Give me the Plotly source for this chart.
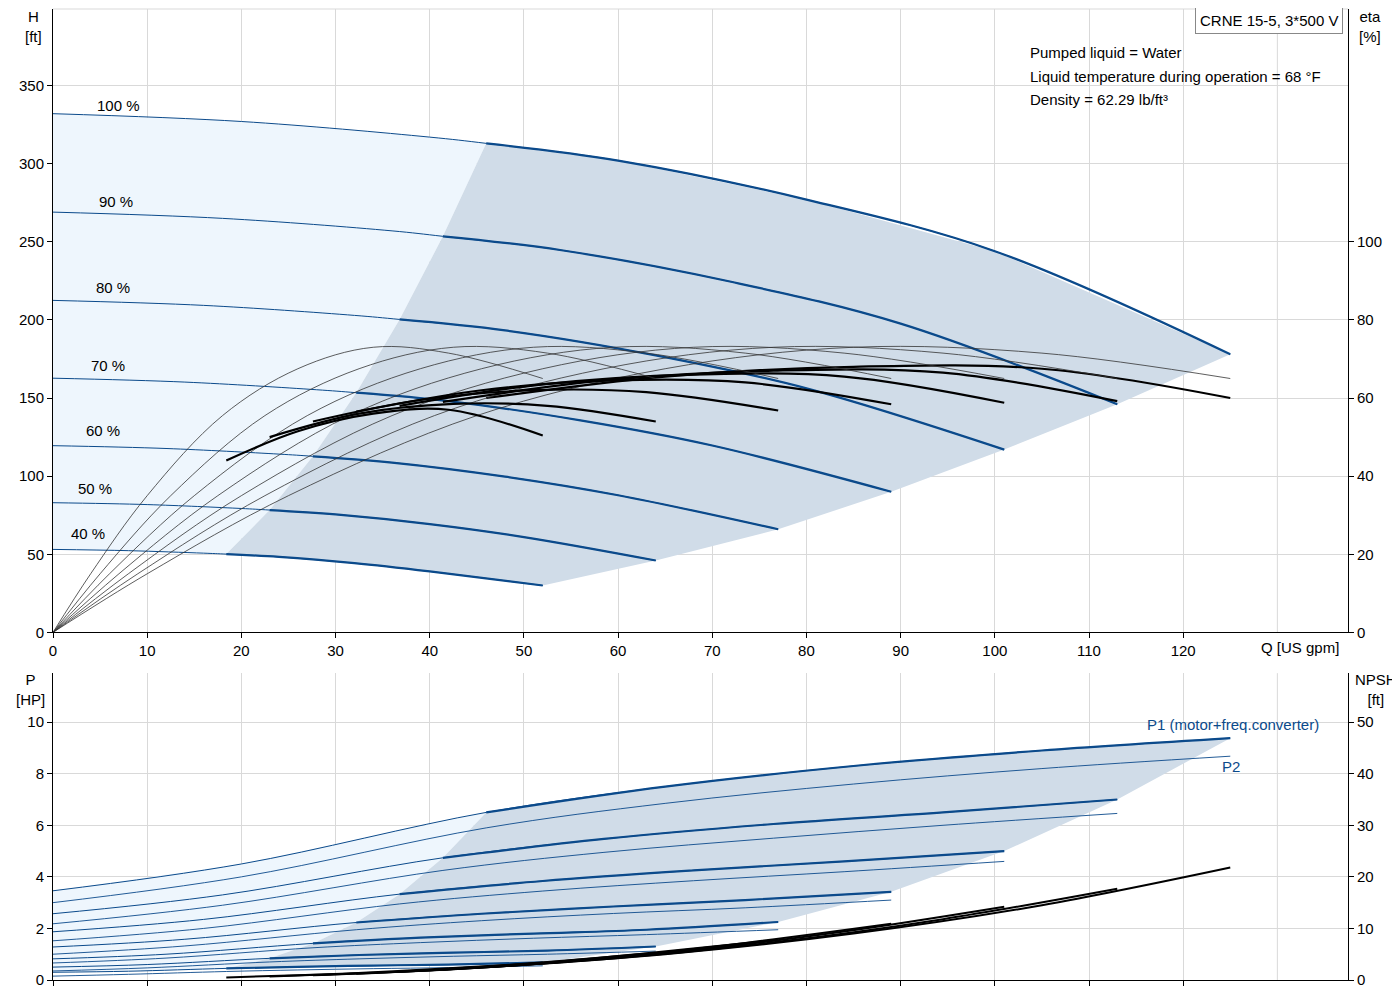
import plotly.graph_objects as go

SPEEDS = ["100 %", "90 %", "80 %", "70 %", "60 %", "50 %", "40 %"]
# H curves (Q, H) per speed; index 3 = start of operating range
H_Q = [
    [0, 20, 40, 46, 60, 80, 100, 125],
    [0, 18, 36, 41.4, 54, 72, 90, 113],
    [0, 16, 32, 36.8, 48, 64, 80, 101],
    [0, 14, 28, 32.2, 42, 56, 70, 89],
    [0, 12, 24, 27.6, 36, 48, 60, 77],
    [0, 10, 20, 23, 30, 40, 50, 64],
    [0, 8, 16, 18.4, 24, 32, 40, 52],
]
H_V = [
    [332, 327, 317, 313, 302, 277, 244, 178],
    [269, 265, 257, 253.5, 244.6, 224.4, 197.6, 146],
    [212.5, 209.3, 202.9, 200.3, 193.3, 177.3, 156.2, 117],
    [162.7, 160.2, 155.3, 153.4, 148, 135.7, 119.6, 90],
    [119.5, 117.7, 114.1, 112.7, 108.7, 99.7, 87.8, 66],
    [83, 81.8, 79.3, 78.3, 75.5, 69.3, 61, 46],
    [53.1, 52.3, 50.7, 50.1, 48.3, 44.3, 39, 30],
]
LABEL_POS = [(7.0, 337), (6.7, 276), (6.4, 221), (5.8, 171), (5.3, 129), (4.5, 92), (3.7, 63)]

# pump efficiency (thin) per speed
ETA_P_Q = [
    [0, 10, 25, 45, 65, 85, 105, 125],
    [0, 9, 22.5, 40.5, 58.5, 76.5, 94.5, 113],
    [0, 8, 20, 36, 52, 68, 84, 101],
    [0, 7, 17.5, 31.5, 45.5, 59.5, 73.5, 89],
    [0, 6, 15, 27, 39, 51, 63, 77],
    [0, 5, 12.5, 22.5, 32.5, 42.5, 52.5, 64],
    [0, 4, 10, 18, 26, 34, 42, 52],
]
ETA_P_V = [0, 15, 35, 55.5, 67.5, 73, 71.5, 65]
# total efficiency (thick) per speed
ETA_T_Q = [
    [46, 65, 85, 105, 125],
    [41.4, 58.5, 76.5, 94.5, 113],
    [36.8, 52, 68, 84, 101],
    [32.2, 45.5, 59.5, 73.5, 89],
    [27.6, 39, 51, 63, 77],
    [23, 32.5, 42.5, 52.5, 64],
    [18.4, 26, 34, 42, 52],
]
ETA_T_V = [
    [60, 65.5, 68, 67.5, 60],
    [59, 64.5, 67, 66.5, 59.2],
    [58, 63.5, 66, 65.5, 58.8],
    [56.5, 62, 64.5, 64, 58.4],
    [54, 59.5, 62, 61.5, 56.8],
    [50, 56, 58.5, 58, 54],
    [44, 51.5, 56, 57, 50.4],
]

# power curves, index 2 = start of operating range
P_Q = [
    [0, 20, 46, 65, 85, 105, 125],
    [0, 18, 41.4, 58.5, 76.5, 94.5, 113],
    [0, 16, 36.8, 52, 68, 84, 101],
    [0, 14, 32.2, 45.5, 59.5, 73.5, 89],
    [0, 12, 27.6, 39, 51, 63, 77],
    [0, 10, 23, 32.5, 42.5, 52.5, 64],
    [0, 8, 18.4, 26, 34, 42, 52],
]
P1_V = [
    [3.46, 4.5, 6.5, 7.5, 8.3, 8.9, 9.38],
    [2.57, 3.3, 4.74, 5.47, 6.05, 6.5, 7.0],
    [1.87, 2.35, 3.33, 3.84, 4.25, 4.6, 5.0],
    [1.28, 1.58, 2.23, 2.57, 2.85, 3.1, 3.42],
    [0.82, 1.0, 1.42, 1.64, 1.8, 1.95, 2.25],
    [0.5, 0.6, 0.84, 0.97, 1.06, 1.14, 1.3],
    [0.3, 0.34, 0.45, 0.51, 0.56, 0.6, 0.68],
]
P2_V = [
    [3.0, 4.0, 5.9, 6.85, 7.6, 8.2, 8.68],
    [2.18, 2.9, 4.25, 4.95, 5.5, 6.0, 6.46],
    [1.52, 2.0, 2.95, 3.45, 3.85, 4.2, 4.6],
    [1.0, 1.32, 1.95, 2.3, 2.58, 2.8, 3.1],
    [0.66, 0.85, 1.25, 1.45, 1.62, 1.76, 1.95],
    [0.35, 0.47, 0.7, 0.82, 0.92, 1.0, 1.12],
    [0.15, 0.22, 0.33, 0.39, 0.44, 0.48, 0.55],
]
NPSH_V = [
    [2.5, 5, 9, 14.5, 21.8],
    [2.0, 4.0, 7.3, 11.8, 17.7],
    [1.6, 3.2, 5.8, 9.4, 14.2],
    [1.2, 2.4, 4.4, 7.2, 10.9],
    [0.9, 1.8, 3.2, 5.2, 7.8],
    [0.7, 1.3, 2.2, 3.5, 5.25],
    [0.5, 0.9, 1.5, 2.3, 3.3],
]

X_TICKS = list(range(0, 130, 10))
BLUE = "#0b4a8b"
LIGHT = "#eef6fd"
DARK = "#d0dce8"
FONT = "Liberation Sans, Arial, sans-serif"

fig = go.Figure()

def add(x, y, xa, ya, color, width, shape="spline", fill=None, fillcolor=None, mode="lines"):
    fig.add_trace(go.Scatter(x=x, y=y, xaxis=xa, yaxis=ya, mode=mode, line=dict(color=color, width=width, shape=shape),
                             fill=fill, fillcolor=fillcolor, hoverinfo="skip", showlegend=False))

def regions(Q, V, k, xa, ya):
    n = len(Q)
    lx = Q[0][:k + 1] + [Q[i][k] for i in range(1, n)] + Q[-1][:k + 1][::-1]
    ly = V[0][:k + 1] + [V[i][k] for i in range(1, n)] + V[-1][:k + 1][::-1]
    add(lx, ly, xa, ya, "rgba(0,0,0,0)", 0, "linear", "toself", LIGHT)
    dx = Q[0][k:] + [Q[i][-1] for i in range(1, n - 1)] + Q[-1][k:][::-1] + [Q[i][k] for i in range(n - 2, 0, -1)]
    dy = V[0][k:] + [V[i][-1] for i in range(1, n - 1)] + V[-1][k:][::-1] + [V[i][k] for i in range(n - 2, 0, -1)]
    add(dx, dy, xa, ya, "rgba(0,0,0,0)", 0, "linear", "toself", DARK)

regions(H_Q, H_V, 3, "x", "y")
regions(P_Q, P1_V, 2, "x2", "y3")

for i in range(7):
    add(H_Q[i], H_V[i], "x", "y", BLUE, 1)
    add(H_Q[i][3:], H_V[i][3:], "x", "y", BLUE, 2.2)
    add(ETA_P_Q[i], ETA_P_V, "x", "y2", "#333333", 0.8)
    add(ETA_T_Q[i], ETA_T_V[i], "x", "y2", "black", 2.2)
    add(P_Q[i], P1_V[i], "x2", "y3", BLUE, 1)
    add(P_Q[i][2:], P1_V[i][2:], "x2", "y3", BLUE, 2.2)
    add(P_Q[i], P2_V[i], "x2", "y3", BLUE, 0.9)
    add(ETA_T_Q[i], NPSH_V[i], "x2", "y4", "black", 2)
    fig.add_annotation(x=LABEL_POS[i][0], y=LABEL_POS[i][1], xref="x", yref="y", text=SPEEDS[i],
                       showarrow=False, font=dict(size=15, color="black"))

grid = "#d9d9d9"
ax = dict(showgrid=True, gridcolor=grid, zeroline=False, ticks="outside", tickcolor="black", automargin=False,
          tickfont=dict(size=15, color="black"), showline=True, linecolor="black")
fig.update_layout(
    width=1400, height=1000, plot_bgcolor="white", paper_bgcolor="white",
    margin=dict(l=45, r=60, t=1, b=28, autoexpand=False), font=dict(family=FONT, color="black"),
    xaxis=dict(ax, domain=[0, 1], range=[0, 137.5], tickvals=X_TICKS, anchor="y"),
    yaxis=dict(ax, domain=[0.358, 1], range=[0, 399], tickvals=list(range(0, 400, 50))),
    yaxis2=dict(ax, overlaying="y", side="right", range=[0, 159.6], tickvals=list(range(0, 120, 20)), showgrid=False, anchor="x"),
    xaxis2=dict(ax, domain=[0, 1], range=[0, 137.5], tickvals=X_TICKS, showticklabels=False, anchor="y3"),
    yaxis3=dict(ax, domain=[0, 0.316], range=[0, 11.9], tickvals=list(range(0, 12, 2))),
    yaxis4=dict(ax, overlaying="y3", side="right", range=[0, 59.5], tickvals=list(range(0, 60, 10)), showgrid=False, anchor="x2"),
)
fig.add_shape(type="line", xref="x", yref="paper", x0=130, x1=130, y0=0.358, y1=1, line=dict(color=grid, width=1), layer="below")
fig.add_shape(type="line", xref="x2", yref="paper", x0=130, x1=130, y0=0, y1=0.316, line=dict(color=grid, width=1), layer="below")
fig.add_shape(type="line", xref="paper", yref="paper", x0=0, x1=1, y0=1, y1=1, line=dict(color=grid, width=1))

def ann(x, y, text, xanchor="center", yanchor="middle", color="black", size=15, **kw):
    fig.add_annotation(x=x, y=y, xref="paper", yref="paper", text=text, showarrow=False,
                       xanchor=xanchor, yanchor=yanchor, font=dict(size=size, color=color, family=FONT), **kw)

W, Hh = 1295.0, 971.0
def px(xp): return (xp - 45) / W
def py(yp): return (972 - yp) / Hh

ann(px(25), py(19), "H<br>[ft]")
ann(px(1362), py(19), "eta<br>[%]")
ann(px(1292), py(639), "Q [US gpm]")
ann(px(22), py(681), "P<br>[HP]")
ann(px(1368), py(681), "NPSH<br>[ft]")
ann(px(1261), py(13), "CRNE 15-5, 3*500 V", bordercolor="#888888", borderwidth=1, borderpad=4, bgcolor="white")
ann(px(1020), py(44), "Pumped liquid = Water", xanchor="left")
ann(px(1020), py(68), "Liquid temperature during operation = 68 °F", xanchor="left")
ann(px(1020), py(92), "Density = 62.29 lb/ft³", xanchor="left")
ann(px(1313), py(716), "P1 (motor+freq.converter)", xanchor="right", color=BLUE)
ann(px(1223), py(758), "P2", color=BLUE)

fig.write_html("out.html")
